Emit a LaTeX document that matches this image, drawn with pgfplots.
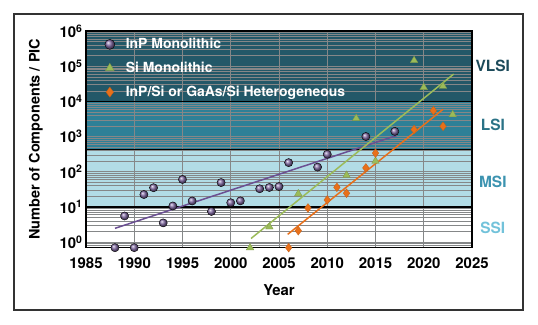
\documentclass[border=0pt]{standalone}
\usepackage{fontspec}
\setmainfont{TeX Gyre Heros}
\usepackage{pgfplots}
\pgfplotsset{compat=1.18}
\definecolor{vlsi}{HTML}{235868}
\definecolor{lsi}{HTML}{2E8097}
\definecolor{msi}{HTML}{B2DCE6}
\definecolor{inp}{HTML}{6B4F92}
\definecolor{sig}{HTML}{9BBB59}
\definecolor{het}{HTML}{E8701A}
\definecolor{tvlsi}{HTML}{1C4A5A}
\definecolor{tlsi}{HTML}{2A7286}
\definecolor{tmsi}{HTML}{3C93B0}
\definecolor{tssi}{HTML}{72C2DA}
\definecolor{gridc}{HTML}{858788}
\begin{document}
\begin{tikzpicture}
\begin{axis}[
  set layers,
  at={(0,0)}, anchor=south west,
  scale only axis, width=386bp, height=216.7bp,
  xmin=1985, xmax=2025,
  ymode=log, ymin=0.69, ymax=1e6,
  clip=false,
  xtick={1985,1990,1995,2000,2005,2010,2015,2020,2025},
  xticklabels={1985,1990,1995,2000,2005,2010,2015,2020,2025},
  ytick={1,10,100,1000,10000,100000,1000000},
  yticklabels={10\textsuperscript{0},10\textsuperscript{1},10\textsuperscript{2},10\textsuperscript{3},10\textsuperscript{4},10\textsuperscript{5},10\textsuperscript{6}},
  minor ytick={0.7,0.8,0.9,2,3,4,5,6,7,8,9,20,30,40,50,60,70,80,90,200,300,400,500,600,700,800,900,2000,3000,4000,5000,6000,7000,8000,9000,20000,30000,40000,50000,60000,70000,80000,90000,200000,300000,400000,500000,600000,700000,800000,900000},
  xmajorgrids, ymajorgrids, yminorgrids,
  major grid style={gridc, line width=0.7bp},
  minor grid style={gridc, line width=0.4bp},
  major tick length=0pt, minor tick length=0pt,
  axis line style={line width=1.3bp, black},
  ticklabel style={font=\fontsize{15}{16}\selectfont\bfseries},
  xticklabel style={yshift=-6bp},
  xlabel={Year},
  xlabel style={font=\fontsize{15}{16}\selectfont\bfseries, yshift=-10bp},
  ylabel={Number of Components / PIC},
  ylabel style={font=\fontsize{14.5}{16}\selectfont\bfseries, at={(axis description cs:-0.13,0.5)}, anchor=center},
  legend style={at={(axis description cs:0.04,0.985)}, anchor=north west, draw=none, fill=none,
    font=\fontsize{14}{15}\selectfont\bfseries, text=white, row sep=8bp},
  legend cell align=left,
  legend image code/.code={\draw[#1, mark size=5bp] plot coordinates {(0bp,0bp)}; \path[draw=none, fill=none] (0bp,0bp) (14bp,0bp);},
]
\addplot[fill=vlsi, draw=none, on layer=axis background, forget plot] coordinates {(1985,1e4)(2025,1e4)(2025,1e6)(1985,1e6)};
\addplot[fill=lsi, draw=none, on layer=axis background, forget plot] coordinates {(1985,430)(2025,430)(2025,1e4)(1985,1e4)};
\addplot[fill=msi, draw=none, on layer=axis background, forget plot] coordinates {(1985,10)(2025,10)(2025,430)(1985,430)};
\addplot[black, line width=1.3bp, forget plot] coordinates {(1985,1e4)(2025,1e4)};
\addplot[black, line width=1.3bp, forget plot] coordinates {(1985,430)(2025,430)};
\addplot[black, line width=1.3bp, forget plot] coordinates {(1985,10)(2025,10)};

% fit lines
\addplot[inp, line width=1.5bp, forget plot] coordinates {(1988,2.45) (2017.2,1070)};
\addplot[sig, line width=1.5bp, forget plot] coordinates {(2002.1,1.26) (2023.1,59600)};
\addplot[het, line width=1.5bp, forget plot] coordinates {(2005.9,1.65) (2022,5930)};

\addplot[only marks, mark=ball, mark size=4.1bp, mark options={ball color=inp!85!white}] coordinates {
(1988,0.69)(1989,5.5)(1990,0.69)(1991,22.4)(1992,35)(1993,3.5)(1994,10.6)(1995,60)(1996,14.7)
(1998,7.4)(1999,49)(2000,13.1)(2001,14.8)(2003,32.7)(2004,35.6)(2005,37.7)(2006,181)
(2009,135)(2010,313)(2014,1000)(2017,1400)};
\addlegendentry{InP Monolithic}
\addplot[only marks, mark=triangle*, mark size=4.4bp, mark options={fill=sig, draw=sig!80!black, line width=0.3bp}] coordinates {
(2002,0.69)(2004,2.7)(2007,23.6)(2012,79)(2013,3270)(2015,200)(2019,145000)(2020,24900)(2022,26900)(2023,4200)};
\addlegendentry{Si Monolithic}
\addplot[only marks, mark=diamond*, mark size=4.4bp, mark options={fill=het, draw=het!85!black, line width=0.3bp}] coordinates {
(2006,0.69)(2007,2.1)(2008,9.3)(2010,15.7)(2011,36)(2012,24.4)(2014,128)(2015,337)(2019,1580)(2021,5450)(2022,1950)};
\addlegendentry{InP/Si or GaAs/Si Heterogeneous}

\node[font=\fontsize{15.5}{16}\selectfont\bfseries, text=tvlsi] at (axis description cs:1.054,0.838) {VLSI};
\node[font=\fontsize{15.5}{16}\selectfont\bfseries, text=tlsi] at (axis description cs:1.054,0.566) {LSI};
\node[font=\fontsize{15.5}{16}\selectfont\bfseries, text=tmsi] at (axis description cs:1.054,0.303) {MSI};
\node[font=\fontsize{15.5}{16}\selectfont\bfseries, text=tssi] at (axis description cs:1.054,0.091) {SSI};
\end{axis}
\draw[line width=1.3bp, black!80] (-72bp,-62.3bp) rectangle (437bp,233.7bp);
\path (-86bp,-77.3bp) rectangle (452bp,247.7bp);
\end{tikzpicture}
\end{document}
